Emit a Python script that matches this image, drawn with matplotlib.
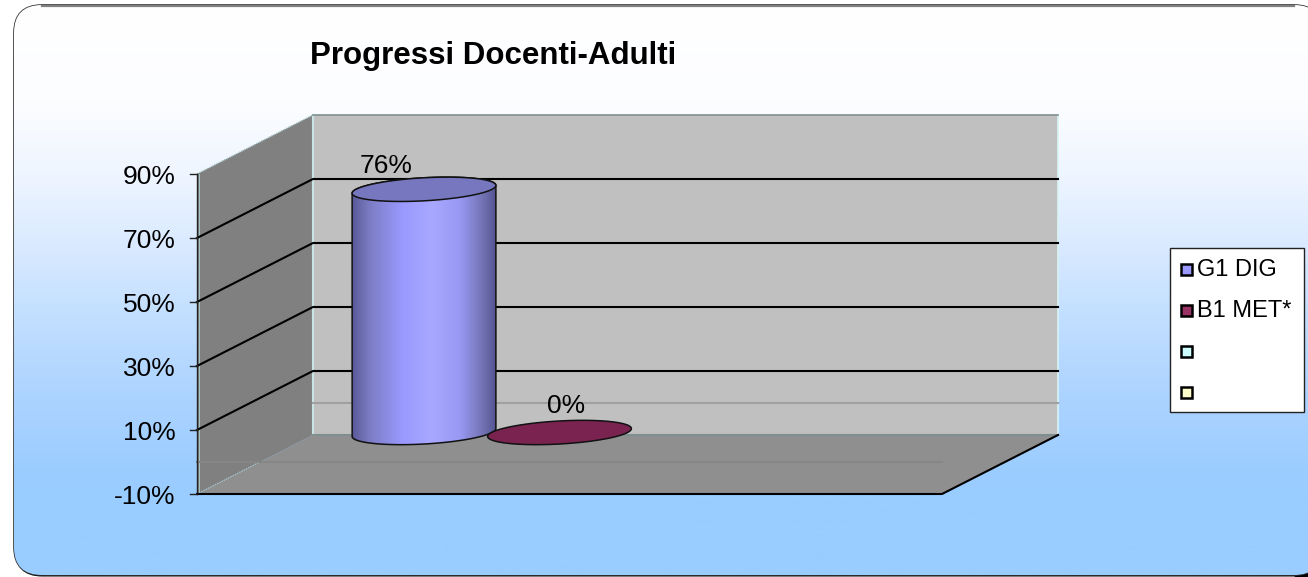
import numpy as np
import matplotlib
matplotlib.use("Agg")
import matplotlib.pyplot as plt
from matplotlib.colors import LinearSegmentedColormap
from matplotlib.patches import FancyBboxPatch, Polygon, Rectangle

plt.rcParams['font.family'] = ['Liberation Sans', 'DejaVu Sans']

# donnees
titre = "Progressi Docenti-Adulti"
graduations = [-10, 10, 30, 50, 70, 90]
etiquettes = ["-10%", "10%", "30%", "50%", "70%", "90%"]
series = ["G1 DIG", "B1 MET*", "", ""]
valeurs = [76, 0]
etiq_valeurs = ["76%", "0%"]
couleurs = ["#9999ff", "#993366", "#ccffff", "#ffffcc"]

W, H = 1308, 577

# geometrie de la fausse 3D (en pixels)
x_avant = 197
y_bas_avant = 494
echelle = 3.2  # pixels par %
dx_prof, dy_prof = 116, -59
long_x = 745


def yv(v, prof=0.0):
    # y pixel d'une valeur, prof=0 devant, prof=1 au fond
    return y_bas_avant - (v + 10) * echelle + prof * dy_prof


def xp(c, prof=0.0):
    # x pixel : c de 0 a 1 le long de l'axe des categories
    return x_avant + c * long_x + prof * dx_prof


def ellipse(xc, yc, a, b, angle=-3.2, n=120):
    t = np.linspace(0, 2 * np.pi, n)
    ang = np.radians(angle)
    x = a * np.cos(t) * np.cos(ang) - b * np.sin(t) * np.sin(ang)
    y = a * np.cos(t) * np.sin(ang) + b * np.sin(t) * np.cos(ang)
    return xc + x, yc + y


fig = plt.figure(figsize=(W / 100, H / 100), dpi=100)
ax = fig.add_axes([0, 0, 1, 1])
ax.set_xlim(0, W)
ax.set_ylim(H, 0)
ax.axis("off")

# fond arrondi avec degrade, le cadre deborde a droite de l'image
fond_cm = LinearSegmentedColormap.from_list("fond", [(0, "#ffffff"), (0.167, "#fcfdff"), (0.29, "#eff6ff"), (0.43, "#d8e9ff"), (0.535, "#c4e0ff"), (0.675, "#aed4ff"), (0.815, "#9ccdff"), (0.87, "#99ccff"), (1, "#99ccff")])
ombre = FancyBboxPatch((15, 7), 1325, 569.5, boxstyle="round,pad=0,rounding_size=27", fc="black", ec="none", zorder=0)
ax.add_patch(ombre)
ax.add_patch(Polygon([(1294, 577), (1308, 577), (1308, 568)], fc="black", ec="none", zorder=0))
cadre = FancyBboxPatch((14, 5), 1308, 570, boxstyle="round,pad=0,rounding_size=28", fc="white", ec="#333333", lw=1.2, zorder=0.1)
ax.add_patch(cadre)
deg = np.linspace(0, 1, 300).reshape(-1, 1)
im = ax.imshow(deg, extent=[14, 1322, 575, 5], cmap=fond_cm, aspect="auto", zorder=0.2)
im.set_clip_path(cadre)
ax.set_xlim(0, W)
ax.set_ylim(H, 0)
ax.plot([42, 1294], [5.5, 5.5], color="#808080", lw=1.6, zorder=0.3)

# parois
haut = graduations[-1]
bas = graduations[0]
xa, xf = xp(0), xp(0, 1)
xa2, xf2 = xp(1), xp(1, 1)
ax.add_patch(Polygon([(xf, yv(haut, 1)), (xf2, yv(haut, 1)), (xf2, yv(bas, 1)), (xf, yv(bas, 1))], fc="#c0c0c0", ec="none", zorder=1))
ax.add_patch(Polygon([(xa, yv(haut)), (xf, yv(haut, 1)), (xf, yv(bas, 1)), (xa, yv(bas))], fc="#808080", ec="none", zorder=1))
ax.add_patch(Polygon([(xa, yv(bas)), (xa2, yv(bas)), (xf2, yv(bas, 1)), (xf, yv(bas, 1))], fc="#8f8f8f", ec="none", zorder=1))

# aretes claires
ax.plot([xf, xf], [yv(haut, 1), yv(bas, 1)], color="#c8e4e4", lw=1.5, zorder=1.5)
ax.plot([xf2, xf2], [yv(haut, 1), yv(bas, 1)], color="#d8f4f4", lw=1.2, zorder=1.5)
ax.plot([xa, xf], [yv(haut), yv(haut, 1)], color="#9cbcbc", lw=1.0, ls=(0, (1, 1)), zorder=1.5)
ax.plot([xa, xp(0, 0.55)], [yv(bas), yv(bas, 0.55)], color="#a8c8c8", lw=0.9, ls=(0, (1, 1)), zorder=1.5)
ax.plot([xa + 1.5, xa + 1.5], [yv(bas), yv(haut)], color="#a8c8c8", lw=0.7, zorder=1.5)
ax.plot([xf, xf2], [yv(haut, 1), yv(haut, 1)], color="#7f9090", lw=1.2, zorder=1.5)
ax.plot([xf, xf2], [yv(bas, 1), yv(bas, 1)], color="#7f8f8f", lw=1.5, zorder=1.5)

# ligne du zero, tres discrete
ax.plot([xf, xf2], [yv(0, 1), yv(0, 1)], color="#a0a0a0", lw=1.5, zorder=1.6)
ax.plot([xa, xa2], [yv(0), yv(0)], color="#868686", lw=1.5, zorder=1.6)

# grille
for v in graduations[1:-1]:
    ax.plot([xa, xf, xf2], [yv(v), yv(v, 1), yv(v, 1)], color="black", lw=1.5, zorder=2)

# axe et graduations
ax.plot([xa, xa], [yv(bas), yv(haut)], color="#222222", lw=1, zorder=2)
ax.plot([xa, xa2, xf2], [yv(bas), yv(bas), yv(bas, 1)], color="black", lw=1.5, zorder=2)
for v, e in zip(graduations, etiquettes):
    ax.plot([xa - 7, xa], [yv(v), yv(v)], color="#222222", lw=1, zorder=2)
    ax.text(175.5, yv(v) + 3, e, ha="right", va="center", fontsize=19, color="black")

# cylindres
cyl_cm = LinearSegmentedColormap.from_list("cyl", [(0, "#585898"), (0.12, "#7c7cc4"), (0.35, "#9999ff"), (0.55, "#a8a8ff"), (0.75, "#9999f4"), (0.92, "#7070b0"), (1, "#545494")])
centres = [(424, 72), (559.5, 72)]
y_base = yv(0, 0.5)
for i, v in enumerate(valeurs):
    xc, a = centres[i]
    y_top = yv(v, 0.5)
    xb, yb = ellipse(xc, y_base, a, 11.5)
    xt, yt = ellipse(xc, y_top, a, 11.5)
    if v > 0:
        # corps : bas de l'ellipse du bas, puis haut
        sx = np.concatenate([xb[:60], xt[60:]])
        sy = np.concatenate([yb[:60], yt[60:]])
        ordre = np.argsort(np.arctan2(sy - (y_base + y_top) / 2, sx - xc))
        corps = Polygon(np.column_stack([sx[ordre], sy[ordre]]), fc="none", ec="#111111", lw=1.1, zorder=4)
        ax.add_patch(corps)
        g = ax.imshow(np.linspace(0, 1, 256).reshape(1, -1), extent=[xc - a, xc + a, y_base + 14, y_top - 14], cmap=cyl_cm, aspect="auto", zorder=3.5)
        g.set_clip_path(corps)
        ax.set_xlim(0, W)
        ax.set_ylim(H, 0)
        ax.fill(xt, yt, fc="#7777c0", ec="#111111", lw=1.1, zorder=5)
    else:
        ax.fill(xb, yb, fc="#7a2350", ec="#111111", lw=1.1, zorder=4.5)

# etiquettes de donnees
ax.text(386.5, 166, etiq_valeurs[0], ha="center", va="center", fontsize=19, color="black", zorder=6)
ax.text(566.5, 406, etiq_valeurs[1], ha="center", va="center", fontsize=19, color="black", zorder=6)

# titre
ax.text(493, 56, titre, ha="center", va="center", fontsize=22.5, fontweight="bold", color="black")

# legende faite a la main, comme dans l'original
ax.add_patch(Rectangle((1170, 248), 134, 164, fc="white", ec="#222222", lw=1, zorder=3))
y_leg = [269, 310, 351, 392]
for y, s, c in zip(y_leg, series, couleurs):
    ax.add_patch(Rectangle((1181, y - 5.5), 11, 11, fc=c, ec="black", lw=1.8, zorder=4))
    ax.text(1197, y + 1, s, ha="left", va="center", fontsize=17, color="black", zorder=4)

fig.savefig("out.png", dpi=100)
